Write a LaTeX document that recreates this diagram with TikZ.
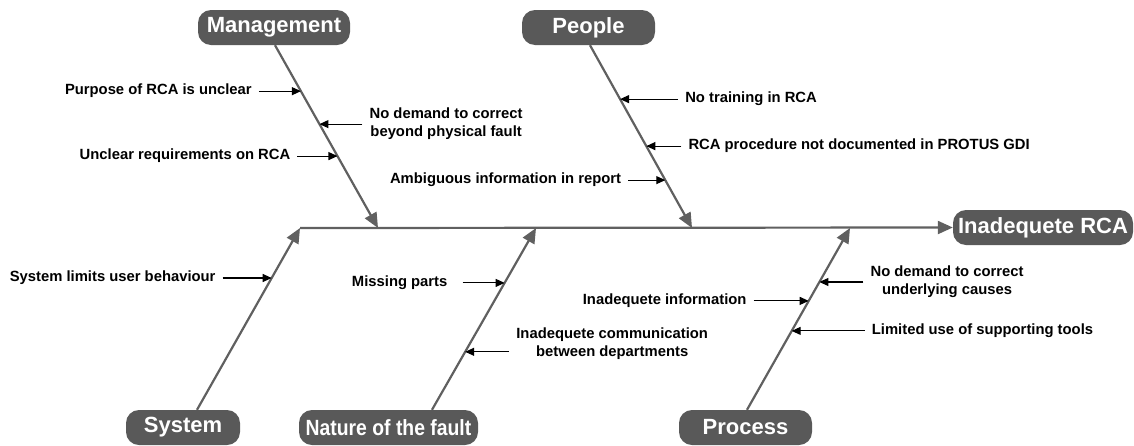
\documentclass[tikz,border=0pt]{standalone}
\usepackage{fontspec}
\setmainfont{Liberation Sans}
\usetikzlibrary{arrows.meta}
\definecolor{boxgray}{HTML}{595959}
\definecolor{bonegray}{HTML}{606060}

\begin{document}
\begin{tikzpicture}[x=1pt,y=-1pt,
  category/.style={fill=boxgray, text=white, rounded corners=13pt,
    minimum height=35pt, inner sep=0pt,
    font=\fontsize{22}{22}\selectfont\bfseries},
  bone/.style={draw=bonegray, line width=2.2pt,
    -{Triangle[length=15pt,width=13pt]}},
  cause/.style={font=\fontsize{14.8}{18}\selectfont\bfseries,
    inner xsep=7pt, inner ysep=2pt, align=center},
  causearrow/.style={draw=black, line width=1.1pt,
    -{Triangle[length=9pt,width=8pt]}}]

\useasboundingbox (0,0) rectangle (1134,445);

% category heads and the effect
\node[category, minimum width=152pt] (mgmt)    at (274,27.5)    {Management};
\node[category, minimum width=133pt] (people)  at (588.5,27.5)  {People};
\node[category, minimum width=180pt] (rca)     at (1043,227.5)  {Inadequete RCA};
\node[category, minimum width=114pt] (system)  at (183,427.5)   {System};
\node[category, minimum width=179pt] (nature)  at (388.5,427.5) {\scalebox{0.88}[1]{Nature of the fault}};
\node[category, minimum width=133pt] (process) at (745.5,427.5) {Process};

% junctions on the spine
\coordinate (jSys)    at (300,228);
\coordinate (jMgmt)   at (378,228);
\coordinate (jNat)    at (536,228);
\coordinate (jPeople) at (692,228);
\coordinate (jProc)   at (850,228);

% spine
\draw[bone] (jSys) -- (rca.west);

% bones
\draw[bone] ([xshift=1pt]mgmt.south)      -- (jMgmt);
\draw[bone] ([xshift=1.5pt]people.south)  -- (jPeople);
\draw[bone] ([xshift=14pt]system.north)   -- (jSys);
\draw[bone] ([xshift=43.5pt]nature.north) -- (jNat);
\draw[bone] ([xshift=1.5pt]process.north) -- (jProc);

% points on the bones where causes attach
\path ([xshift=1pt]mgmt.south) -- (jMgmt)
  coordinate[pos=0.2514] (m1) coordinate[pos=0.4317] (m2) coordinate[pos=0.6066] (m3);
\path ([xshift=1.5pt]people.south) -- (jPeople)
  coordinate[pos=0.295] (p1) coordinate[pos=0.552] (p2) coordinate[pos=0.738] (p3);
\path ([xshift=14pt]system.north) -- (jSys)
  coordinate[pos=0.725] (s1);
\path ([xshift=43.5pt]nature.north) -- (jNat)
  coordinate[pos=0.698] (n1) coordinate[pos=0.319] (n2);
\path ([xshift=1.5pt]process.north) -- (jProc)
  coordinate[pos=0.703] (r1) coordinate[pos=0.599] (r2) coordinate[pos=0.434] (r3);

% Management causes
\node[cause, anchor=east] (cm1) at ([xshift=-42pt]m1) {Purpose of RCA is unclear};
\draw[causearrow] (cm1.east) -- (m1);
\node[cause, anchor=west] (cm2) at ([xshift=43pt]m2) {No demand to correct\\beyond physical fault};
\draw[causearrow] (cm2.west) -- (m2);
\node[cause, anchor=east] (cm3) at ([xshift=-40pt]m3) {Unclear requirements on RCA};
\draw[causearrow] (cm3.east) -- (m3);

% People causes
\node[cause, anchor=west] (cp1) at ([xshift=58pt]p1) {No training in RCA};
\draw[causearrow] (cp1.west) -- (p1);
\node[cause, anchor=west] (cp2) at ([xshift=35pt]p2) {RCA procedure not documented in PROTUS GDI};
\draw[causearrow] (cp2.west) -- (p2);
\node[cause, anchor=east] (cp3) at ([xshift=-37pt]p3) {Ambiguous information in report};
\draw[causearrow] (cp3.east) -- (p3);

% System causes
\node[cause, anchor=east] (cs1) at ([xshift=-49pt]s1) {System limits user behaviour};
\draw[causearrow] (cs1.east) -- (s1);

% Nature of the fault causes
\node[cause, anchor=east] (cn1) at ([xshift=-50pt]n1) {Missing parts};
\draw[causearrow] ([xshift=8pt]cn1.east) -- (n1);
\node[cause, anchor=west] (cn2) at ([xshift=44pt, yshift=8.5pt]n2) {Inadequete communication\\between departments};
\draw[causearrow] (cn2.west |- n2) -- (n2);

% Process causes
\node[cause, anchor=west] (cr1) at ([xshift=44pt]r1) {No demand to correct\\underlying causes};
\draw[causearrow] (cr1.west) -- (r1);
\node[cause, anchor=east] (cr2) at ([xshift=-55pt]r2) {Inadequete information};
\draw[causearrow] (cr2.east) -- (r2);
\node[cause, anchor=west] (cr3) at ([xshift=73pt]r3) {Limited use of supporting tools};
\draw[causearrow] (cr3.west) -- (r3);

\end{tikzpicture}
\end{document}
